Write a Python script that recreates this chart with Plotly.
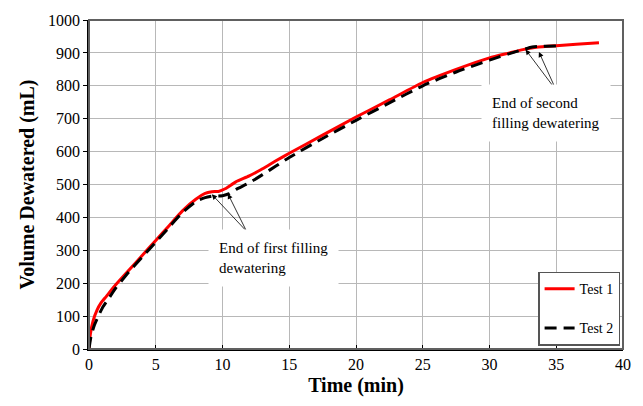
import plotly.graph_objects as go

t1 = [0, 0.1, 0.3, 0.6, 0.9, 1.3, 2, 3, 4, 5, 6, 7, 8, 8.7, 9.2, 9.7, 10.2, 11, 12, 13, 14, 15,
      17.5, 20, 22.5, 25, 27.5, 30, 31.5, 32.5, 33.5, 35, 36.5, 38.2]
v1 = [0, 45, 85, 118, 140, 160, 195, 240, 285, 330, 375, 420, 455, 473, 478, 479, 487, 508, 526, 548,
      572, 595, 650, 705, 757, 810, 850, 885, 900, 910, 917, 922, 926, 931]

t2 = [0, 0.15, 0.4, 0.7, 1, 1.5, 2, 3, 4, 5, 6, 7, 8, 8.7, 9.3, 10, 10.5, 11, 12, 13, 14, 15,
      17.5, 20, 22.5, 25, 27.5, 30, 31.5, 32.5, 33.2, 34, 35.5]
v2 = [0, 38, 72, 100, 125, 155, 185, 235, 280, 325, 370, 415, 448, 460, 465, 466, 472, 485, 505, 530,
      556, 582, 640, 695, 748, 800, 842, 878, 898, 910, 918, 920, 921]

x_ticks = [0, 5, 10, 15, 20, 25, 30, 35, 40]
y_ticks = [0, 100, 200, 300, 400, 500, 600, 700, 800, 900, 1000]

arrow1_heads = [(9.2, 470), (10.4, 472)]
arrow1_tail = (11.8, 358)
arrow2_heads = [(32.7, 910), (33.7, 903)]
arrow2_tail = (35.0, 786)

FONT = "Liberation Serif"

fig = go.Figure()
fig.add_trace(go.Scatter(x=t1, y=v1, mode="lines", name="Test 1",
                         line=dict(color="#ff0000", width=3, shape="spline", smoothing=0.6),
                         legendgroup="a"))
fig.add_trace(go.Scatter(x=t2, y=v2, mode="lines", name="Test 2",
                         line=dict(color="#000000", width=3, dash="12px,7px", shape="spline", smoothing=0.6),
                         legendgroup="b"))

annotations = []
for (hx, hy) in arrow1_heads:
    annotations.append(dict(x=hx, y=hy, ax=arrow1_tail[0], ay=arrow1_tail[1], axref="x", ayref="y",
                            xref="x", yref="y", text="", showarrow=True, arrowhead=2,
                            arrowsize=1.3, arrowwidth=0.8, arrowcolor="black"))
for (hx, hy) in arrow2_heads:
    annotations.append(dict(x=hx, y=hy, ax=arrow2_tail[0], ay=arrow2_tail[1], axref="x", ayref="y",
                            xref="x", yref="y", text="", showarrow=True, arrowhead=2,
                            arrowsize=1.3, arrowwidth=0.8, arrowcolor="black"))
annotations.append(dict(x=8.9, y=276, xref="x", yref="y", text="End of first filling<br>dewatering",
                        showarrow=False, xanchor="left", yanchor="middle", align="left",
                        font=dict(family=FONT, size=15, color="black"), bgcolor="white", borderpad=10))
annotations.append(dict(x=29.35, y=717, xref="x", yref="y", text="End of second<br>filling dewatering",
                        showarrow=False, xanchor="left", yanchor="middle", align="left",
                        font=dict(family=FONT, size=15, color="black"), bgcolor="white", borderpad=10))

fig.update_layout(
    width=643, height=406,
    margin=dict(l=89, r=17, t=17, b=57),
    paper_bgcolor="white", plot_bgcolor="white",
    font=dict(family=FONT, color="black"),
    showlegend=True,
    legend=dict(x=0.841, y=0.235, xanchor="left", yanchor="top",
                bordercolor="#555555", borderwidth=1.5, bgcolor="white",
                font=dict(family=FONT, size=14), tracegroupgap=18, itemwidth=30),
    annotations=annotations,
    shapes=[dict(type="rect", xref="paper", yref="paper", x0=0, y0=0, x1=1, y1=1,
                 line=dict(color="#606060", width=2), layer="above")],
)
fig.update_xaxes(range=[0, 40], tickvals=x_ticks, showgrid=True, gridcolor="#b8b8b8", gridwidth=1,
                 showline=True, linecolor="black", linewidth=1.5, ticks="inside", ticklen=4,
                 tickcolor="black", tickfont=dict(size=16, family=FONT), zeroline=False,
                 title=dict(text="<b>Time (min)</b>", font=dict(size=20, family=FONT), standoff=6))
fig.update_yaxes(range=[0, 1000], tickvals=y_ticks, showgrid=True, gridcolor="#b8b8b8", gridwidth=1,
                 showline=True, linecolor="black", linewidth=1.5, ticks="outside", ticklen=4,
                 tickcolor="black", tickfont=dict(size=16, family=FONT), zeroline=False,
                 title=dict(text="<b>Volume Dewatered (mL)</b>", font=dict(size=20, family=FONT), standoff=8))

fig.write_html("out.html")
